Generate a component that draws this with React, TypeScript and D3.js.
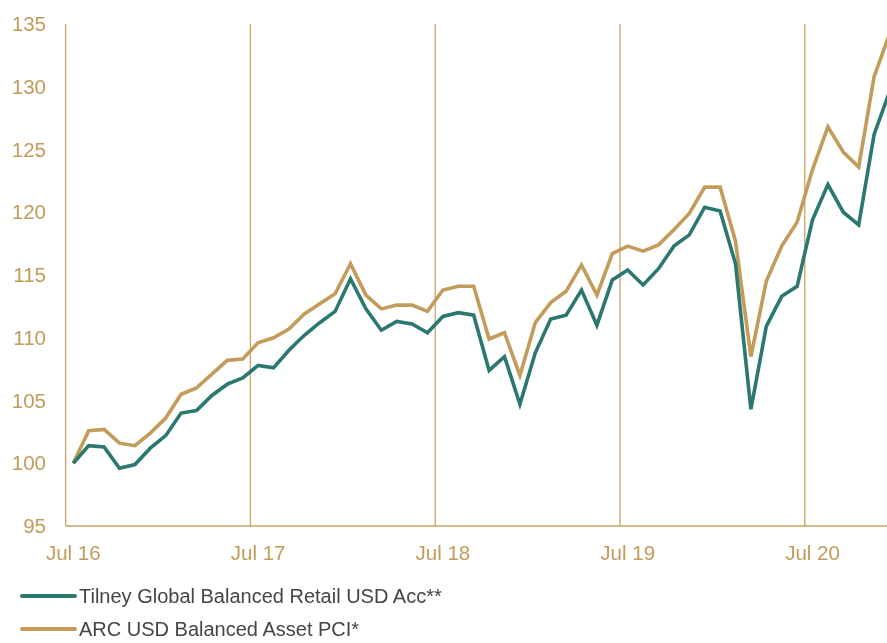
import React, { useEffect, useRef } from 'react';
import * as d3 from 'd3';

// monthly categories, Jul 16 .. Dec 20
const months = [
  'Jul 16', 'Aug 16', 'Sep 16', 'Oct 16', 'Nov 16', 'Dec 16', 'Jan 17', 'Feb 17', 'Mar 17', 'Apr 17', 'May 17', 'Jun 17',
  'Jul 17', 'Aug 17', 'Sep 17', 'Oct 17', 'Nov 17', 'Dec 17', 'Jan 18', 'Feb 18', 'Mar 18', 'Apr 18', 'May 18', 'Jun 18',
  'Jul 18', 'Aug 18', 'Sep 18', 'Oct 18', 'Nov 18', 'Dec 18', 'Jan 19', 'Feb 19', 'Mar 19', 'Apr 19', 'May 19', 'Jun 19',
  'Jul 19', 'Aug 19', 'Sep 19', 'Oct 19', 'Nov 19', 'Dec 19', 'Jan 20', 'Feb 20', 'Mar 20', 'Apr 20', 'May 20', 'Jun 20',
  'Jul 20', 'Aug 20', 'Sep 20', 'Oct 20', 'Nov 20', 'Dec 20',
];

const tilney = [
  100, 101.4, 101.3, 99.6, 99.9, 101.2, 102.2, 104.0, 104.2, 105.4, 106.3, 106.8,
  107.8, 107.6, 109.0, 110.2, 111.2, 112.1, 114.7, 112.3, 110.6, 111.3, 111.1, 110.4,
  111.7, 112.0, 111.8, 107.4, 108.5, 104.7, 108.8, 111.5, 111.8, 113.8, 111.0, 114.6,
  115.4, 114.2, 115.5, 117.3, 118.2, 120.4, 120.1, 115.9, 104.3, 110.9, 113.3, 114.1,
  119.4, 122.2, 120.0, 119.0, 126.2, 129.6,
];

const arc = [
  100, 102.6, 102.7, 101.6, 101.4, 102.4, 103.6, 105.5, 106.0, 107.1, 108.2, 108.3,
  109.6, 110.0, 110.7, 111.9, 112.7, 113.5, 115.9, 113.4, 112.3, 112.6, 112.6, 112.1,
  113.8, 114.1, 114.1, 109.9, 110.4, 107.0, 111.2, 112.8, 113.7, 115.8, 113.4, 116.7,
  117.3, 116.9, 117.4, 118.6, 119.9, 122.0, 122.0, 117.7, 108.5, 114.5, 117.3, 119.2,
  123.4, 126.8, 124.8, 123.6, 130.8, 134.2,
];

const yTicks = [95, 100, 105, 110, 115, 120, 125, 130, 135];
const xTickLabels = ['Jul 16', 'Jul 17', 'Jul 18', 'Jul 19', 'Jul 20'];
const seriesNames = ['Tilney Global Balanced Retail USD Acc**', 'ARC USD Balanced Asset PCI*'];

const App = () => {
  const svgRef = useRef<SVGSVGElement | null>(null);

  useEffect(() => {
    if (!svgRef.current) return;
    const width = 887;
    const height = 643;
    const svg = d3.select(svgRef.current);
    svg.attr('width', width).attr('height', height);
    svg.selectAll('*').remove();

    const left = 65.6;
    const step = 15.4;
    const top = 24;
    const bottom = 526;

    const teal = '#2b7871';
    const tan = '#c39b5b';
    const axisCol = '#c9a264';
    const font = "'Liberation Sans', Arial, sans-serif";

    const x = d3.scaleBand<string>()
      .domain(months)
      .range([left, left + step * months.length])
      .paddingInner(0)
      .paddingOuter(0);

    const y = d3.scaleLinear().domain([95, 135]).range([bottom, top]);

    const cx = (m: string) => (x(m) as number) + x.bandwidth() / 2;

    // vertical gridlines at the left edge of each July
    xTickLabels.slice(1).forEach(m => {
      svg.append('line')
        .attr('x1', x(m) as number).attr('x2', x(m) as number)
        .attr('y1', top).attr('y2', bottom)
        .attr('stroke', axisCol)
        .attr('stroke-width', 1.3);
    });

    // axes
    svg.append('line')
      .attr('x1', left).attr('x2', left)
      .attr('y1', top).attr('y2', bottom)
      .attr('stroke', axisCol).attr('stroke-width', 1.3);
    svg.append('line')
      .attr('x1', left).attr('x2', width)
      .attr('y1', bottom).attr('y2', bottom)
      .attr('stroke', axisCol).attr('stroke-width', 1.3);

    // y tick labels
    yTicks.forEach(t => {
      svg.append('text')
        .attr('x', 46)
        .attr('y', y(t))
        .attr('dy', '0.35em')
        .attr('text-anchor', 'end')
        .attr('fill', tan)
        .style('font-size', '20.5px')
        .style('font-family', font)
        .text(t);
    });

    // x tick labels
    xTickLabels.forEach(m => {
      svg.append('text')
        .attr('x', cx(m))
        .attr('y', 553)
        .attr('dy', '0.35em')
        .attr('text-anchor', 'middle')
        .attr('fill', tan)
        .style('font-size', '20.5px')
        .style('font-family', font)
        .text(m);
    });

    const line = d3.line<number>()
      .x((_, i) => cx(months[i]))
      .y(d => y(d));

    svg.append('path')
      .datum(arc)
      .attr('d', line)
      .attr('fill', 'none')
      .attr('stroke', tan)
      .attr('stroke-width', 3.6)
      .attr('stroke-linejoin', 'miter');

    svg.append('path')
      .datum(tilney)
      .attr('d', line)
      .attr('fill', 'none')
      .attr('stroke', teal)
      .attr('stroke-width', 3.6)
      .attr('stroke-linejoin', 'miter');

    // legend
    const legendColors = [teal, tan];
    seriesNames.forEach((name, i) => {
      const ly = 596 + i * 33;
      svg.append('line')
        .attr('x1', 22).attr('x2', 75)
        .attr('y1', ly).attr('y2', ly)
        .attr('stroke', legendColors[i])
        .attr('stroke-width', 4)
        .attr('stroke-linecap', 'round');
      svg.append('text')
        .attr('x', 79)
        .attr('y', ly)
        .attr('dy', '0.35em')
        .attr('fill', '#454545')
        .style('font-size', '20px')
        .style('font-family', font)
        .text(name);
    });
  }, []);

  return (
    <div style={{ position: 'fixed', left: 0, top: 0 }}>
      <svg ref={svgRef} style={{ display: 'block' }}></svg>
    </div>
  );
};

export default App;
